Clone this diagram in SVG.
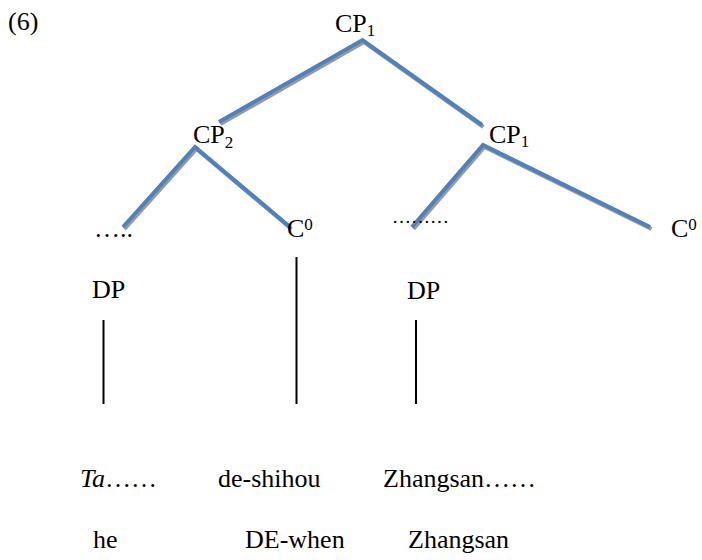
<svg xmlns="http://www.w3.org/2000/svg" width="702" height="560" viewBox="0 0 702 560">
  <style>
    text { font-family: "Liberation Serif", "Times New Roman", serif; font-size: 26px; fill: #000; }
    .sub { font-size: 17px; }
    .dots { font-size: 19px; }
    .branch { fill: none; stroke: #4F81BD; stroke-width: 4; stroke-linejoin: miter; stroke-linecap: butt; }
    .shadow { fill: none; stroke: #9a9a9a; stroke-width: 4; stroke-linejoin: miter; stroke-linecap: butt; }
    .stem { stroke: #000; stroke-width: 2; }
  </style>

  <text x="8" y="30">(6)</text>

  <!-- tree branches: gray shadow under blue stroke -->
  <g id="connectors">
    <g transform="translate(1.5,2)">
      <polyline class="shadow" points="219,122 362.5,40 482,125"/>
      <polyline class="shadow" points="123,227 195,147 290,227"/>
      <polyline class="shadow" points="412,227 483,145 650,227"/>
    </g>
    <polyline class="branch" points="219,122 362.5,40 482,125"/>
    <polyline class="branch" points="123,227 195,147 290,227"/>
    <polyline class="branch" points="412,227 483,145 650,227"/>
    <line class="stem" x1="103.5" y1="320" x2="103.5" y2="404"/>
    <line class="stem" x1="296.5" y1="257" x2="296.5" y2="404"/>
    <line class="stem" x1="416" y1="320" x2="416" y2="404"/>
  </g>

  <g id="cp1-top"><text x="335" y="32">CP<tspan class="sub" dy="4">1</tspan></text></g>
  <g id="cp2"><text x="193" y="143">CP<tspan class="sub" dy="5">2</tspan></text></g>
  <g id="cp1-low"><text x="489" y="143">CP<tspan class="sub" dy="4">1</tspan></text></g>

  <g id="dots-left"><text x="94" y="237">…..</text></g>
  <g id="c0-left"><text x="287" y="237">C<tspan class="sub" dy="-7">0</tspan></text></g>
  <g id="dots-right"><text class="dots" x="392" y="223">………</text></g>
  <g id="c0-right"><text x="671" y="237">C<tspan class="sub" dy="-7">0</tspan></text></g>

  <g id="dp-left"><text x="92" y="298">DP</text></g>
  <g id="dp-right"><text x="407" y="299">DP</text></g>

  <g id="gloss">
    <text x="80" y="487"><tspan font-style="italic">Ta</tspan>……</text>
    <text x="218" y="487">de-shihou</text>
    <text x="383" y="487">Zhangsan……</text>
    <text x="93" y="548">he</text>
    <text x="245" y="548">DE-when</text>
    <text x="408" y="548">Zhangsan</text>
  </g>
</svg>
